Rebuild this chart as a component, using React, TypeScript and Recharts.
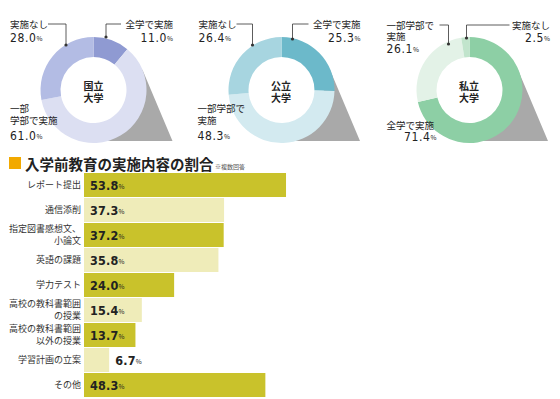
import React from "react"
import { PieChart, Pie, Cell, BarChart, Bar, XAxis, YAxis, LabelList } from "recharts"

// 学内の入学前教育の実施状況（%）: 全学で実施 / 一部学部で実施 / 実施なし
const pieGroups = ["全学で実施", "一部学部で実施", "実施なし"]
const kokuritsu = [11.0, 61.0, 28.0]
const kouritsu = [25.3, 48.3, 26.4]
const shiritsu = [71.4, 26.1, 2.5]
const pieTitles = [["国立", "大学"], ["公立", "大学"], ["私立", "大学"]]

// 入学前教育の実施内容の割合（%）
const barCategories = [
  "レポート提出",
  "通信添削",
  "指定図書感想文、\n小論文",
  "英語の課題",
  "学力テスト",
  "高校の教科書範囲\nの授業",
  "高校の教科書範囲\n以外の授業",
  "学習計画の立案",
  "その他",
]
const barValues = [53.8, 37.3, 37.2, 35.8, 24.0, 15.4, 13.7, 6.7, 48.3]

const JP = "'Noto Sans CJK JP', 'Noto Sans', sans-serif"
const NUM = "'DejaVu Sans Condensed', 'DejaVu Sans', sans-serif"
const INK = "#222"

const PIE_LEFTS = [0, 187.5, 375.5]
const CX = 93.5
const CY = 90
const R_IN = 33
const R_OUT = 53
const pieColors = [
  ["#8f9ad2", "#dcdff2", "#b3bce4"],
  ["#6cb9ca", "#d3eaf0", "#a7d5e0"],
  ["#8dcfa5", "#e3f2e7", "#c1e4cc"],
]
const BAR_DARK = "#c9c22b"
const BAR_LIGHT = "#efecb9"

type Note = {
  lines: string[]
  x: number
  y: number
  anchor: "start" | "end"
  gap?: number
  vx: number
  vy: number
  vAnchor?: "start" | "end"
  leader?: number[][]
}

// label placement for each donut, same order as pieGroups
const pieNotes: Note[][] = [
  [
    { lines: ["全学で実施"], x: 173, y: 24, anchor: "end", vx: 173, vy: 38, leader: [[121, 24], [106, 24], [106, 37]] },
    { lines: ["一部", "学部で実施"], x: 10, y: 108, anchor: "start", vx: 10, vy: 136 },
    { lines: ["実施なし"], x: 10, y: 24, anchor: "start", vx: 10, vy: 38, leader: [[48, 24], [66, 24], [66, 45]] },
  ],
  [
    { lines: ["全学で実施"], x: 173, y: 24, anchor: "end", vx: 173, vy: 38, leader: [[121, 24], [105, 24], [105, 39]] },
    { lines: ["一部学部で", "実施"], x: 10, y: 108, anchor: "start", vx: 10, vy: 136 },
    { lines: ["実施なし"], x: 11, y: 24, anchor: "start", vx: 11, vy: 38, leader: [[49, 24], [65, 24], [65, 45]] },
  ],
  [
    { lines: ["全学で実施"], x: 11, y: 125, anchor: "start", vx: 61, vy: 137, vAnchor: "end" },
    { lines: ["一部学部で", "実施"], x: 11, y: 25, gap: 11, anchor: "start", vx: 11, vy: 49, leader: [[64, 25], [73, 25], [73, 44]] },
    { lines: ["実施なし"], x: 174.5, y: 25, anchor: "end", vx: 174.5, vy: 38, leader: [[134, 25], [91, 25], [91, 38]] },
  ],
]

function shadowPoints(cx: number, cy: number) {
  const ax = cx + 79
  const ay = cy + 51
  const d = Math.hypot(ax - cx, ay - cy)
  const t = Math.atan2(ay - cy, ax - cx) - Math.acos(R_OUT / d)
  const pts = [
    [cx + R_OUT * Math.cos(t), cy + R_OUT * Math.sin(t)],
    [ax, ay],
    [cx, ay],
    [cx + 30, cy + 35],
    [cx + 43, cy],
  ]
  return pts.map((p) => p.join(",")).join(" ")
}

function Lines({ x, y, lines, gap, anchor, size, weight, fill }: any) {
  return (
    <text x={x} y={y} textAnchor={anchor} fontFamily={JP} fontSize={size} fontWeight={weight} fill={fill}>
      {lines.map((l: string, i: number) => (
        <tspan key={i} x={x} y={y + i * gap} dominantBaseline="central">{l}</tspan>
      ))}
    </text>
  )
}

function Value({ x, y, v, anchor }: { x: number; y: number; v: number; anchor: "start" | "end" }) {
  return (
    <text x={x} y={y} textAnchor={anchor} dominantBaseline="central" fill={INK} fontFamily={NUM} fontStretch="condensed" fontSize={12} letterSpacing={0.6}>
      {v.toFixed(1)}
      <tspan fontSize={6.5} fontFamily={JP} letterSpacing={0}>%</tspan>
    </text>
  )
}

function YTick(props: any) {
  const { x, y, payload } = props
  const lines = String(payload.value).split("\n")
  const top = y - ((lines.length - 1) * 12) / 2
  return <Lines x={x} y={top} lines={lines} gap={12} anchor="end" size={9} fill="#333" />
}

function BarValue(props: any) {
  const { x, y, width, height, value } = props
  const tx = width > 30 ? x + 6 : x + width + 6
  return (
    <text x={tx} y={y + height / 2 + 0.5} dominantBaseline="central" fill={INK} fontFamily={NUM} fontStretch="condensed" fontSize={12.5} fontWeight="bold" letterSpacing={0.2}>
      {Number(value).toFixed(1)}
      <tspan fontSize={6.5} fontFamily={JP} fontWeight="normal" letterSpacing={0}>%</tspan>
    </text>
  )
}

export default function App() {
  const pieSeries = [kokuritsu, kouritsu, shiritsu]
  const barData = barCategories.map((name, i) => ({ name, value: barValues[i] }))

  return (
    <div style={{ position: "absolute", left: 0, top: 0, width: 560, height: 399, background: "#fff", overflow: "hidden" }}>
      <svg width={560} height={399} style={{ position: "absolute", left: 0, top: 0 }}>
        {PIE_LEFTS.map((l, i) => (
          <polygon key={i} points={shadowPoints(l + CX, CY)} fill="#a9a9a9" />
        ))}
      </svg>

      {pieSeries.map((vals, k) => (
        <div key={k} style={{ position: "absolute", left: PIE_LEFTS[k], top: 0 }}>
          <PieChart width={188} height={150} margin={{ top: 0, right: 0, bottom: 0, left: 0 }}>
            <Pie
              data={pieGroups.map((name, i) => ({ name, value: vals[i] }))}
              dataKey="value"
              cx={CX}
              cy={CY}
              innerRadius={R_IN}
              outerRadius={R_OUT}
              startAngle={90}
              endAngle={-270}
              stroke="none"
              isAnimationActive={false}
            >
              {pieGroups.map((g, i) => (
                <Cell key={g} fill={pieColors[k][i]} />
              ))}
            </Pie>
          </PieChart>
        </div>
      ))}

      <div style={{ position: "absolute", left: 0, top: 171.5 }}>
        <BarChart width={320} height={225} layout="vertical" data={barData} margin={{ top: 0, right: 10.7, bottom: 0, left: 0 }}>
          <XAxis type="number" domain={[0, 60]} hide />
          <YAxis type="category" dataKey="name" width={84} axisLine={false} tickLine={false} tickSize={0} tickMargin={3} tick={<YTick />} interval={0} />
          <Bar dataKey="value" barSize={24} isAnimationActive={false}>
            {barData.map((d, i) => (
              <Cell key={d.name} fill={i % 2 === 0 ? BAR_DARK : BAR_LIGHT} />
            ))}
            <LabelList dataKey="value" content={<BarValue />} />
          </Bar>
        </BarChart>
      </div>

      <svg width={560} height={399} style={{ position: "absolute", left: 0, top: 0, pointerEvents: "none" }}>
        {pieSeries.map((vals, k) => (
          <g key={k} transform={`translate(${PIE_LEFTS[k]},0)`}>
            <Lines x={CX} y={85} lines={pieTitles[k]} gap={12} anchor="middle" size={10} weight="bold" fill={INK} />
            {pieNotes[k].map((n, i) => (
              <g key={i}>
                <Lines x={n.x} y={n.y} lines={n.lines} gap={n.gap ?? 12} anchor={n.anchor} size={9.5} fill={INK} />
                <Value x={n.vx} y={n.vy} v={vals[i]} anchor={n.vAnchor ?? n.anchor} />
                {n.leader && (
                  <>
                    <polyline points={n.leader.map((p) => p.join(",")).join(" ")} fill="none" stroke="#333" strokeWidth={0.8} />
                    <circle cx={n.leader[2][0]} cy={n.leader[2][1]} r={1.6} fill="#333" />
                  </>
                )}
              </g>
            ))}
          </g>
        ))}

        <rect x={9} y={157} width={12} height={12} fill="#f2a900" />
        <text x={25} y={163} dominantBaseline="central" fontFamily={JP} fontSize={14.5} fontWeight="bold" fill={INK}>
          入学前教育の実施内容の割合
        </text>
        <text x={215} y={166} dominantBaseline="central" fontFamily={JP} fontSize={6} fill="#555">
          ※複数回答
        </text>
      </svg>
    </div>
  )
}
